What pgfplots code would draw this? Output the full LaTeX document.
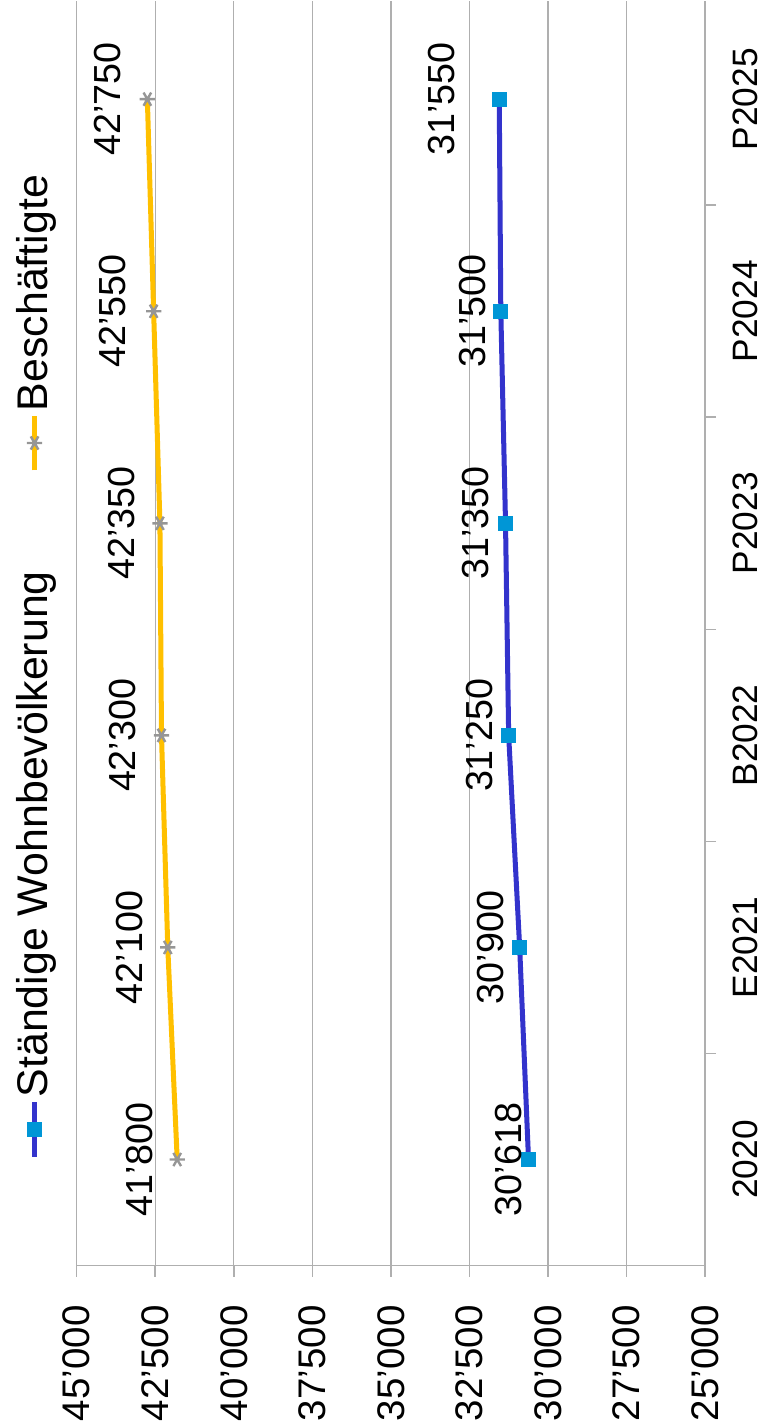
\documentclass[border=0pt]{standalone}
\usepackage{pgfplots}
\pgfplotsset{compat=1.18}
\usepackage{pgfplotstable}
\usepackage{graphicx}
\usepackage{fontspec}
\setmainfont{Liberation Sans}

\definecolor{wohnline}{RGB}{51,51,204}
\definecolor{wohnmark}{RGB}{0,150,214}
\definecolor{beschline}{RGB}{255,192,0}
\definecolor{beschmark}{RGB}{150,150,150}
\definecolor{gridgray}{RGB}{175,175,175}

% x = Jahr (0 = 2020), off = Abstand Beschriftung (pt)
\pgfplotstableread{
x y off
0 30618 1.75
1 30900 4
2 31250 4
3 31350 4.25
4 31500 3.75
5 31550 11.25
}\wohn
\pgfplotstableread{
x y off
0 41800 6.25
1 42100 6.25
2 42300 6.5
3 42350 6.25
4 42550 7
5 42750 6.75
}\besch

\begin{document}
\rotatebox{90}{%
\begin{tikzpicture}
\begin{axis}[
    scale only axis,
    width=315.5pt, height=156.75pt,
    xmin=-0.5, xmax=5.464,
    ymin=25000, ymax=45000,
    axis x line*=bottom, axis y line*=left,
    axis line style={draw=gridgray, line width=0.4pt},
    tick align=outside,
    major tick length=2.75pt,
    tick style={draw=gridgray, line width=0.4pt},
    xtick={0.5,1.5,2.5,3.5,4.5},
    xticklabels={,,,,},
    extra x ticks={0,1,2,3,4,5},
    extra x tick labels={2020,E2021,B2022,P2023,P2024,P2025},
    extra x tick style={major tick length=0pt, grid=none,
        xticklabel style={font=\fontsize{8.8}{10}\selectfont, anchor=base, inner sep=0pt, yshift=-13pt}},
    scaled y ticks=false,
    ytick={25000,27500,30000,32500,35000,37500,40000,42500,45000},
    yticklabel={\pgfmathprintnumber[fixed,precision=0,1000 sep={’},assume math mode=true]{\tick}},
    yticklabel style={font=\fontsize{9.6}{11}\selectfont, anchor=east, inner sep=0pt, xshift=-7pt},
    ymajorgrids,
    grid style={draw=gridgray, line width=0.35pt},
    clip=false,
    legend columns=-1,
    legend style={at={(0.474,1)}, anchor=center, yshift=10.5pt, draw=none, fill=none,
        font=\fontsize{10.7}{12}\selectfont,
        /tikz/every even column/.append style={column sep=24pt},
        nodes={inner xsep=0.5pt}},
    legend image code/.code={\draw[mark repeat=2,mark phase=2] plot coordinates {(0cm,0cm)(0.24cm,0cm)(0.48cm,0cm)};},
    nodes near coords={\pgfmathprintnumber[fixed,precision=0,1000 sep={’},assume math mode=true]{\pgfplotspointmeta}},
    nodes near coords style={font=\fontsize{9.4}{10}\selectfont, anchor=base, inner sep=0pt, text=black},
]
\addplot[color=wohnline, line width=1.25pt, mark=square*,
    mark size=1.75pt, mark options={fill=wohnmark, draw=wohnmark, line width=0.3pt},
    visualization depends on={\thisrow{off}\as\lbloff},
    every node near coord/.append style={yshift=\lbloff pt}]
    table[x=x, y=y] {\wohn};
\addlegendentry{Ständige Wohnbevölkerung}
\addplot[color=beschline, line width=1.25pt, mark=asterisk,
    mark size=1.9pt, mark options={draw=beschmark, line width=0.6pt},
    visualization depends on={\thisrow{off}\as\lbloff},
    every node near coord/.append style={yshift=\lbloff pt}]
    table[x=x, y=y] {\besch};
\addlegendentry{Beschäftigte}
\end{axis}
\end{tikzpicture}}
\end{document}
